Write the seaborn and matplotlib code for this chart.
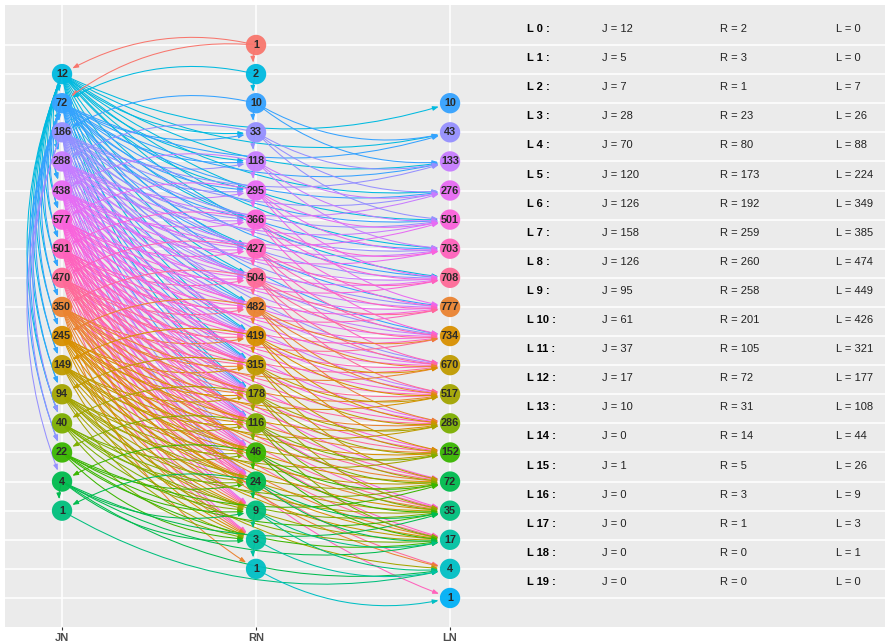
import matplotlib
matplotlib.use("Agg")
import matplotlib.pyplot as plt
import seaborn as sns
import pandas as pd

# ---------------- data ----------------
columns = ["JN", "RN", "LN"]

jn_levels = [1, 2, 3, 4, 5, 6, 7, 8, 9, 10, 11, 12, 13, 14, 15, 16]
jn_values = [12, 72, 186, 288, 438, 577, 501, 470, 350, 245, 149, 94, 40, 22, 4, 1]
rn_levels = [0, 1, 2, 3, 4, 5, 6, 7, 8, 9, 10, 11, 12, 13, 14, 15, 16, 17, 18]
rn_values = [1, 2, 10, 33, 118, 295, 366, 427, 504, 482, 419, 315, 178, 116, 46, 24, 9, 3, 1]
ln_levels = [2, 3, 4, 5, 6, 7, 8, 9, 10, 11, 12, 13, 14, 15, 16, 17, 18, 19]
ln_values = [10, 43, 133, 276, 501, 703, 708, 777, 734, 670, 517, 286, 152, 72, 35, 17, 4, 1]

table_levels = list(range(20))
table_j = [12, 5, 7, 28, 70, 120, 126, 158, 126, 95, 61, 37, 17, 10, 0, 1, 0, 0, 0, 0]
table_r = [2, 3, 1, 23, 80, 173, 192, 259, 260, 258, 201, 105, 72, 31, 14, 5, 3, 1, 0, 0]
table_l = [0, 0, 7, 26, 88, 224, 349, 385, 474, 449, 426, 321, 177, 108, 44, 26, 9, 3, 1, 0]

# colour of each level (ggplot hue palette, factor levels in string order)
level_colors = ["#F8766D", "#00BAE0", "#35A2FF", "#9590FF", "#C77CFF", "#E76BF3",
                "#FA62DB", "#FF62BC", "#FF6A98", "#EA8331", "#D89000", "#C09B00",
                "#A3A500", "#7CAE00", "#39B600", "#00BB4E", "#00BF7D", "#00C1A3",
                "#00BFC4", "#00B0F6"]

# edges: source level -> list of target levels
jn_to_jn = {1: [2, 3, 4, 5, 6, 7, 8, 9, 10, 11, 12, 13],
            2: [3, 4, 5, 6, 7, 8, 9, 10, 11, 12, 13, 14],
            3: [13, 14, 15],
            15: [16]}
rn_to_rn = {0: [1], 1: [2], 2: [3], 3: [4], 4: [5], 5: [6], 6: [7], 7: [8], 8: [9],
            9: [10], 10: [11], 11: [12], 12: [13], 13: [14], 14: [15], 15: [16],
            16: [17], 17: [18]}
rn_to_jn = {0: [1, 2], 1: [2], 2: [3], 3: [4], 4: [5], 5: [6], 6: [7], 7: [8], 8: [9],
            9: [10], 10: [11], 11: [12], 12: [13], 13: [14], 14: [15], 15: [16]}
jn_to_rn = {1: [3, 4, 5, 6, 7, 8, 9, 10, 11, 12],
            2: [3, 4, 5, 6, 7, 8, 9, 10, 11, 12, 13],
            3: [4, 5, 6, 7, 8, 9, 10, 11, 12, 13, 14, 15],
            4: [5, 6, 7, 8, 9, 10, 11, 12, 13, 14, 15],
            5: [6, 7, 8, 9, 10, 11, 12, 13, 14, 15, 16],
            6: [7, 8, 9, 10, 11, 12, 13, 14, 15, 16, 17],
            7: [8, 9, 10, 11, 12, 13, 14, 15, 16, 17],
            8: [9, 10, 11, 12, 13, 14, 15, 16, 17],
            9: [10, 11, 12, 13, 14, 15, 16, 17, 18],
            10: [11, 12, 13, 14, 15, 16, 17],
            11: [12, 13, 14, 15, 16, 17],
            12: [13, 14, 15, 16, 17],
            13: [14, 15, 16, 17],
            14: [15, 16, 17],
            15: [16, 17]}
jn_to_ln = {1: [2, 3, 4, 5, 6, 7, 8],
            2: [3, 4, 5, 6, 7, 8, 9, 10],
            3: [4, 5, 6, 7, 8, 9, 10, 11],
            4: [5, 6, 7, 8, 9, 10, 11, 12],
            5: [6, 7, 8, 9, 10, 11, 12, 13],
            6: [8, 9, 10, 11, 12, 13, 14, 15, 16],
            7: [9, 10, 11, 12, 13, 14, 15, 16, 17, 19],
            8: [10, 11, 12, 13, 14, 15, 16, 17, 18],
            9: [11, 12, 13, 14, 15, 16, 17, 18],
            10: [12, 13, 14, 15, 16, 17],
            11: [13, 14, 15, 16, 17],
            12: [14, 15, 16, 17, 18],
            13: [15, 16, 17],
            14: [15, 16, 17],
            15: [16, 17, 18],
            16: [18]}
rn_to_ln = {2: [3, 4], 3: [4, 5, 6], 4: [5, 6, 7], 5: [6, 7, 8, 9], 6: [7, 8, 9, 10],
            7: [8, 9, 10, 11], 8: [9, 10, 11, 12], 9: [10, 11, 12, 13],
            10: [11, 12, 13, 14], 11: [12, 13, 14, 15], 12: [13, 14, 15, 16],
            13: [14, 15, 16, 17], 14: [15, 16, 17], 15: [16, 17], 16: [17, 18],
            17: [18], 18: [19]}

# ---------------- style ----------------
sns.set_theme(style="darkgrid", rc={
    "axes.facecolor": "#EBEBEB",
    "figure.facecolor": "white",
    "grid.color": "white",
    "grid.linewidth": 1.1,
})
plt.rcParams["font.family"] = ["Liberation Sans", "DejaVu Sans"]

fig = plt.figure(figsize=(8.85, 6.44), dpi=100)
ax = fig.add_axes([5 / 885, (644 - 627) / 644, 880 / 885, 622 / 644])

# ---------------- nodes ----------------
node_df = pd.DataFrame({
    "x": [0] * len(jn_levels) + [1] * len(rn_levels) + [2] * len(ln_levels),
    "level": jn_levels + rn_levels + ln_levels,
    "value": jn_values + rn_values + ln_values,
})
node_df["lvl"] = node_df["level"].astype(str)
palette = {str(i): c for i, c in enumerate(level_colors)}

sns.scatterplot(data=node_df, x="x", y="level", hue="lvl", palette=palette,
                s=215, linewidth=0, alpha=0.95, legend=False, ax=ax, zorder=4)
for _, r in node_df.iterrows():
    ax.text(r["x"], r["level"], str(r["value"]), ha="center", va="center",
            fontsize=7.8, fontweight="bold", color="#2a2a2a", zorder=5)

# ---------------- edges ----------------
def draw_edges(edges, xs, xt):
    for src, targets in edges.items():
        for tgt in targets:
            ax.annotate("", xy=(xt, tgt), xytext=(xs, src),
                        arrowprops=dict(arrowstyle="-|>,head_length=0.35,head_width=0.13",
                                        mutation_scale=10,
                                        connectionstyle="arc3,rad=0.2",
                                        shrinkA=0, shrinkB=8.5,
                                        color=level_colors[src], lw=0.75),
                        zorder=2)

draw_edges(jn_to_rn, 0, 1)
draw_edges(jn_to_ln, 0, 2)
draw_edges(rn_to_ln, 1, 2)
draw_edges(rn_to_jn, 1, 0)
draw_edges(jn_to_jn, 0, 0)
draw_edges(rn_to_rn, 1, 1)

# ---------------- table ----------------
for lv, j, r, l in zip(table_levels, table_j, table_r, table_l):
    y = lv - 0.55
    ax.text(2.397, y, f"L {lv} :", ha="left", va="center", fontsize=8,
            fontweight="bold", color="black")
    ax.text(2.784, y, f"J = {j}", ha="left", va="center", fontsize=8, color="#222222")
    ax.text(3.392, y, f"R = {r}", ha="left", va="center", fontsize=8, color="#222222")
    ax.text(3.990, y, f"L = {l}", ha="left", va="center", fontsize=8, color="#222222")

# ---------------- axes ----------------
ax.set_xlim(-0.294, 4.242)
ax.set_ylim(19.997, -1.374)
ax.set_xticks([0, 1, 2])
ax.set_xticklabels(columns, fontsize=8, fontweight="bold", color="#4D4D4D")
ax.set_yticks(list(range(20)))
ax.set_yticklabels([])
ax.tick_params(axis="y", length=0)
ax.tick_params(axis="x", length=2.5, width=0.8, color="#333333", pad=2, bottom=True)
ax.set_xlabel("")
ax.set_ylabel("")
ax.grid(True, color="white", linewidth=1.1)
for s in ax.spines.values():
    s.set_visible(False)

fig.savefig("out.png", dpi=100)
